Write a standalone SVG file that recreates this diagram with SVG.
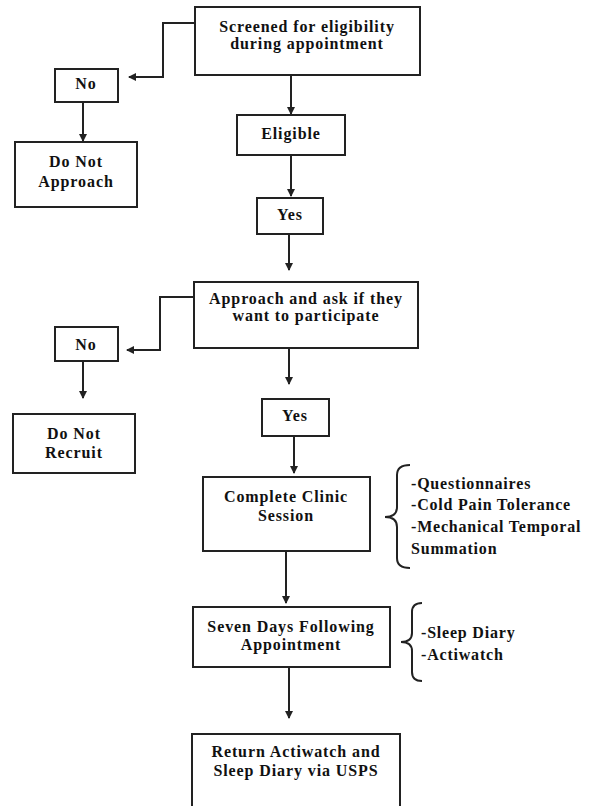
<svg xmlns="http://www.w3.org/2000/svg" width="594" height="806" viewBox="0 0 594 806">
<style>
.box{fill:#fff;stroke:#222;stroke-width:2}
.t{font-family:"Liberation Serif","Times New Roman",serif;font-weight:bold;font-size:16px;letter-spacing:0.9px;fill:#111;text-anchor:middle}
.l{font-family:"Liberation Serif","Times New Roman",serif;font-weight:bold;font-size:16px;letter-spacing:0.8px;fill:#111}
.c{fill:none;stroke:#222;stroke-width:2}
</style>
<defs>
<marker id="ah" markerWidth="8" markerHeight="8" refX="7" refY="4" orient="auto" markerUnits="userSpaceOnUse">
<path d="M0,0 L8,4 L0,8 Z" fill="#222"/>
</marker>
</defs>
<rect width="594" height="806" fill="#fff"/>
<g id="connectors">
<path class="c" d="M195,23 H163 V77 H129" marker-end="url(#ah)"/>
<path class="c" d="M83,102 V141" marker-end="url(#ah)"/>
<path class="c" d="M291,75 V114" marker-end="url(#ah)"/>
<path class="c" d="M291,155 V196" marker-end="url(#ah)"/>
<path class="c" d="M289,234 V270" marker-end="url(#ah)"/>
<path class="c" d="M194,297 H160 V350 H127" marker-end="url(#ah)"/>
<path class="c" d="M83,361 V398" marker-end="url(#ah)"/>
<path class="c" d="M289,348 V384" marker-end="url(#ah)"/>
<path class="c" d="M294,436 V473" marker-end="url(#ah)"/>
<path class="c" d="M286,551 V603" marker-end="url(#ah)"/>
<path class="c" d="M289,667 V718" marker-end="url(#ah)"/>
</g>
<g id="screened"><rect class="box" x="195" y="7" width="225" height="68"/>
<text class="t" x="307" y="32">Screened for eligibility</text><text class="t" x="307" y="49">during appointment</text></g>
<g id="no1"><rect class="box" x="55" y="69" width="63" height="33"/><text class="t" x="86" y="89">No</text></g>
<g id="donotapproach"><rect class="box" x="15" y="142" width="122" height="65"/>
<text class="t" x="76" y="167">Do Not</text><text class="t" x="76" y="187">Approach</text></g>
<g id="eligible"><rect class="box" x="237" y="115" width="108" height="40"/><text class="t" x="291" y="139">Eligible</text></g>
<g id="yes1"><rect class="box" x="257" y="198" width="66" height="36"/><text class="t" x="290" y="220">Yes</text></g>
<g id="approach"><rect class="box" x="194" y="282" width="224" height="66"/>
<text class="t" x="306" y="304">Approach and ask if they</text><text class="t" x="306" y="321">want to participate</text></g>
<g id="no2"><rect class="box" x="55" y="327" width="63" height="34"/><text class="t" x="86" y="350">No</text></g>
<g id="donotrecruit"><rect class="box" x="13" y="414" width="122" height="59"/>
<text class="t" x="74" y="439">Do Not</text><text class="t" x="74" y="458">Recruit</text></g>
<g id="yes2"><rect class="box" x="262" y="399" width="67" height="37"/><text class="t" x="295" y="421">Yes</text></g>
<g id="clinic"><rect class="box" x="203" y="477" width="167" height="74"/>
<text class="t" x="286" y="502">Complete Clinic</text><text class="t" x="286" y="521">Session</text></g>
<g id="clinic-list">
<path class="c" d="M410,465 Q397,465 397,475 V507 Q397,517 385,517 Q397,517 397,527 V558 Q397,568 410,568"/>
<text class="l" x="411" y="489">-Questionnaires</text>
<text class="l" x="411" y="510">-Cold Pain Tolerance</text>
<text class="l" x="411" y="532">-Mechanical Temporal</text>
<text class="l" x="411" y="554">Summation</text>
</g>
<g id="seven"><rect class="box" x="193" y="607" width="197" height="60"/>
<text class="t" x="291" y="632">Seven Days Following</text><text class="t" x="291" y="650">Appointment</text></g>
<g id="seven-list">
<path class="c" d="M422,603 Q412,603 412,612 V633 Q412,642 401,642 Q412,642 412,651 V672 Q412,681 422,681"/>
<text class="l" x="421" y="638">-Sleep Diary</text>
<text class="l" x="421" y="660">-Actiwatch</text>
</g>
<g id="return"><rect class="box" x="192" y="734" width="208" height="80"/>
<text class="t" x="296" y="757">Return Actiwatch and</text><text class="t" x="296" y="776">Sleep Diary via USPS</text></g>
</svg>
